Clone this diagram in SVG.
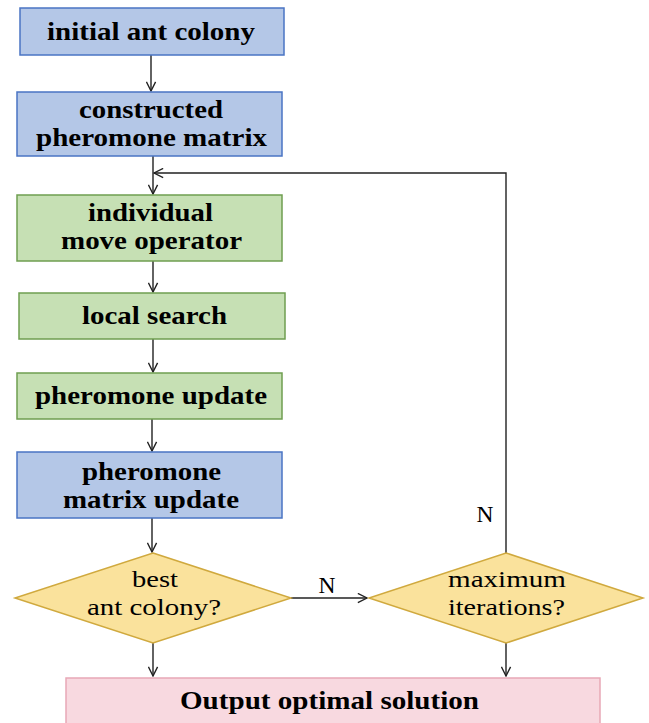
<svg xmlns="http://www.w3.org/2000/svg" width="649" height="723" viewBox="0 0 649 723">
<style>
.blue{fill:#b4c7e7;stroke:#4a74c4;stroke-width:1.5}
.green{fill:#c6e0b4;stroke:#6f9e50;stroke-width:1.5}
.dia{fill:#fae29c;stroke:#d0a93e;stroke-width:1.5}
.pink{fill:#f8d9e0;stroke:#e8a8b6;stroke-width:1.5}
.b{font-family:"Liberation Serif","Times New Roman",serif;font-weight:bold;font-size:25px;fill:#000}
.r{font-family:"Liberation Serif","Times New Roman",serif;font-size:23px;fill:#000}
.c{fill:none;stroke:#222;stroke-width:1.4}
</style>
<defs>
<marker id="ah" viewBox="0 0 12 12" refX="11" refY="6" markerWidth="11" markerHeight="11" markerUnits="userSpaceOnUse" orient="auto">
<path d="M1,1 L11,6 L1,11" fill="none" stroke="#222" stroke-width="1.5"/>
</marker>
</defs>
<g id="connectors">
<line class="c" x1="151" y1="55" x2="151" y2="91" marker-end="url(#ah)"/>
<line class="c" x1="153" y1="156" x2="153" y2="194" marker-end="url(#ah)"/>
<line class="c" x1="153" y1="261" x2="153" y2="292" marker-end="url(#ah)"/>
<line class="c" x1="153" y1="339" x2="153" y2="372" marker-end="url(#ah)"/>
<line class="c" x1="152" y1="419" x2="152" y2="451" marker-end="url(#ah)"/>
<line class="c" x1="152" y1="518" x2="152" y2="552" marker-end="url(#ah)"/>
<line class="c" x1="153" y1="643" x2="153" y2="676" marker-end="url(#ah)"/>
<line class="c" x1="506" y1="643" x2="506" y2="676" marker-end="url(#ah)"/>
<line class="c" x1="291" y1="598" x2="367" y2="598" marker-end="url(#ah)"/>
<polyline class="c" points="506,553 506,173 154,173" marker-end="url(#ah)"/>
<text class="r" x="327" y="593" text-anchor="middle" textLength="17" lengthAdjust="spacingAndGlyphs">N</text>
<text class="r" x="485" y="522" text-anchor="middle" textLength="17" lengthAdjust="spacingAndGlyphs">N</text>
</g>
<g id="n1">
<rect class="blue" x="20" y="8" width="264" height="47"/>
<text class="b" x="47" y="40" textLength="208" lengthAdjust="spacingAndGlyphs">initial ant colony</text>
</g>
<g id="n2">
<rect class="blue" x="17" y="92" width="265" height="64"/>
<text class="b" x="79" y="118" textLength="144" lengthAdjust="spacingAndGlyphs">constructed</text>
<text class="b" x="36" y="146" textLength="231" lengthAdjust="spacingAndGlyphs">pheromone matrix</text>
</g>
<g id="n3">
<rect class="green" x="17" y="195" width="265" height="66"/>
<text class="b" x="88" y="221" textLength="125" lengthAdjust="spacingAndGlyphs">individual</text>
<text class="b" x="61" y="249" textLength="181" lengthAdjust="spacingAndGlyphs">move operator</text>
</g>
<g id="n4">
<rect class="green" x="19" y="293" width="266" height="46"/>
<text class="b" x="82" y="324" textLength="145" lengthAdjust="spacingAndGlyphs">local search</text>
</g>
<g id="n5">
<rect class="green" x="17" y="373" width="265" height="46"/>
<text class="b" x="35" y="404" textLength="232" lengthAdjust="spacingAndGlyphs">pheromone update</text>
</g>
<g id="n6">
<rect class="blue" x="17" y="452" width="265" height="66"/>
<text class="b" x="82" y="480" textLength="139" lengthAdjust="spacingAndGlyphs">pheromone</text>
<text class="b" x="63" y="508" textLength="176" lengthAdjust="spacingAndGlyphs">matrix update</text>
</g>
<g id="d1">
<polygon class="dia" points="153,553 291,598 153,643 15,598"/>
<text class="r" x="132" y="587" textLength="46" lengthAdjust="spacingAndGlyphs">best</text>
<text class="r" x="87" y="615" textLength="134" lengthAdjust="spacingAndGlyphs">ant colony?</text>
</g>
<g id="d2">
<polygon class="dia" points="506,553 643,598 506,643 369,598"/>
<text class="r" x="448" y="587" textLength="118" lengthAdjust="spacingAndGlyphs">maximum</text>
<text class="r" x="448" y="615" textLength="117" lengthAdjust="spacingAndGlyphs">iterations?</text>
</g>
<g id="out">
<rect class="pink" x="66" y="678" width="534" height="60"/>
<text class="b" x="180" y="709" textLength="299" lengthAdjust="spacingAndGlyphs">Output optimal solution</text>
</g>
</svg>
